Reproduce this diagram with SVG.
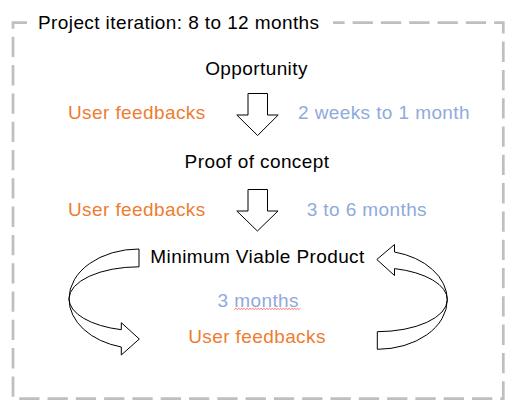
<svg xmlns="http://www.w3.org/2000/svg" width="517" height="414" viewBox="0 0 517 414">
<style>
text{font-family:"Liberation Sans",Arial,sans-serif;font-size:19px;letter-spacing:0.4px}
.k{fill:#000}
.o{fill:#ED7D31}
.b{fill:#8FAADC}
.m{text-anchor:middle}
.arr{fill:#fff;stroke:#000;stroke-width:1;stroke-linejoin:miter}
.frame{fill:none;stroke:#BFBFBF;stroke-width:2.75;stroke-dasharray:20.3 8}
</style>
<rect width="517" height="414" fill="#fff"/>
<g id="container">
<path class="frame" d="M13 22.5 H503.3 V398.5 H13 Z"/>
<rect x="27" y="10" width="306" height="26" fill="#fff"/>
<text class="k" x="38" y="28.5">Project iteration: 8 to 12 months</text>
</g>
<g id="opportunity"><text class="k m" x="256.5" y="75">Opportunity</text></g>
<g id="proof-of-concept"><text class="k m" x="257" y="168">Proof of concept</text></g>
<g id="mvp"><text class="k m" x="257.5" y="263.3">Minimum Viable Product</text></g>
<g id="feedback-1"><text class="o" x="68" y="118.5">User feedbacks</text></g>
<g id="duration-1"><text class="b" x="298" y="118.5">2 weeks to 1 month</text></g>
<g id="feedback-2"><text class="o" x="68" y="216">User feedbacks</text></g>
<g id="duration-2"><text class="b" x="306.7" y="216">3 to 6 months</text></g>
<g id="duration-3"><text class="b m" x="258.3" y="306.7">3 months</text>
<path d="M234.5 309.5 l1.4 -1.2 l1.4 1.2 l1.4 -1.2 l1.4 1.2 l1.4 -1.2 l1.4 1.2 l1.4 -1.2 l1.4 1.2 l1.4 -1.2 l1.4 1.2 l1.4 -1.2 l1.4 1.2 l1.4 -1.2 l1.4 1.2 l1.4 -1.2 l1.4 1.2 l1.4 -1.2 l1.4 1.2 l1.4 -1.2 l1.4 1.2 l1.4 -1.2 l1.4 1.2 l1.4 -1.2 l1.4 1.2 l1.4 -1.2 l1.4 1.2 l1.4 -1.2 l1.4 1.2 l1.4 -1.2 l1.4 1.2 l1.4 -1.2 l1.4 1.2 l1.4 -1.2 l1.4 1.2 l1.4 -1.2 l1.4 1.2 l1.4 -1.2 l1.4 1.2 l1.4 -1.2 l1.4 1.2 l1.4 -1.2 l1.4 1.2 l1.4 -1.2 l1.4 1.2 l1.4 -1.2 l1.4 1.2 l1.4 -1.2" fill="none" stroke="#FF0000" stroke-width="0.8" opacity="0.7"/>
</g>
<g id="feedback-3"><text class="o m" x="257" y="343.3">User feedbacks</text></g>
<g id="connectors">
<path class="arr" d="M248 93.5 H267.5 V115 H278.2 L257.6 135.5 L236.8 115 H248 Z"/>
<path class="arr" d="M248 189.5 H267.5 V211 H278 L257.4 231 L236.8 211 H248 Z"/>
<path class="arr" d="M139 249 A70 49.8 0 0 0 69 298.8 A70 49.8 0 0 0 121.3 347 L121.3 355 L139.3 339 L121.3 322.7 L121.3 329.7 A70 32 0 0 1 69 298.8 A70 32 0 0 1 139 266.8 Z"/>
<path class="arr" d="M377.3 349.3 A70 49.5 0 0 0 447.3 299.8 A70 49.5 0 0 0 394.5 252 L394.5 244.5 L376.8 259.5 L394.5 275.5 L394.5 268.6 A70 31.9 0 0 1 447.3 299.8 A70 31.9 0 0 1 377.3 331.7 Z"/>
</g>
</svg>
